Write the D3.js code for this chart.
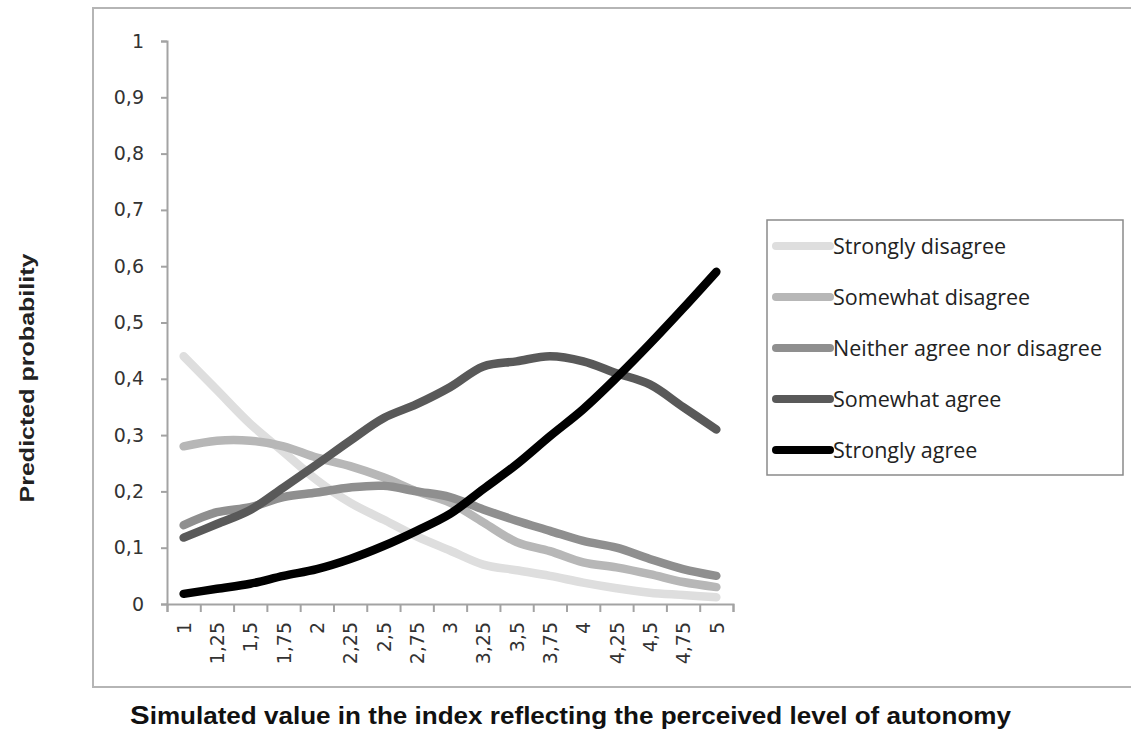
<!DOCTYPE html>
<html>
<head>
<meta charset="utf-8">
<script src="https://cdn.jsdelivr.net/npm/d3@7"></script>
<style>
  body { margin: 0; background: #fff; }
  svg { display: block; }
</style>
</head>
<body>
<div class="container"></div>
<script>
// categories (simulated index values) and their printed labels
var categories = [1, 1.25, 1.5, 1.75, 2, 2.25, 2.5, 2.75, 3, 3.25, 3.5, 3.75, 4, 4.25, 4.5, 4.75, 5];
var xLabels = ['1', '1,25', '1,5', '1,75', '2', '2,25', '2,5', '2,75', '3', '3,25', '3,5', '3,75', '4', '4,25', '4,5', '4,75', '5'];
var yTicks = [0, 0.1, 0.2, 0.3, 0.4, 0.5, 0.6, 0.7, 0.8, 0.9, 1];
var yLabels = ['0', '0,1', '0,2', '0,3', '0,4', '0,5', '0,6', '0,7', '0,8', '0,9', '1'];

var seriesNames = ['Strongly disagree', 'Somewhat disagree', 'Neither agree nor disagree', 'Somewhat agree', 'Strongly agree'];
var stronglyDisagree = [0.44, 0.38, 0.32, 0.27, 0.22, 0.18, 0.15, 0.12, 0.095, 0.07, 0.06, 0.05, 0.038, 0.028, 0.02, 0.016, 0.012];
var somewhatDisagree = [0.28, 0.29, 0.29, 0.28, 0.26, 0.245, 0.225, 0.2, 0.18, 0.145, 0.11, 0.094, 0.074, 0.065, 0.053, 0.039, 0.03];
var neitherAgree = [0.14, 0.163, 0.172, 0.19, 0.198, 0.207, 0.21, 0.2, 0.19, 0.168, 0.148, 0.13, 0.112, 0.1, 0.08, 0.062, 0.05];
var somewhatAgree = [0.118, 0.142, 0.167, 0.207, 0.248, 0.29, 0.33, 0.355, 0.385, 0.422, 0.431, 0.44, 0.431, 0.41, 0.39, 0.35, 0.31];
var stronglyAgree = [0.018, 0.027, 0.036, 0.05, 0.062, 0.08, 0.103, 0.13, 0.16, 0.204, 0.248, 0.298, 0.346, 0.402, 0.462, 0.525, 0.59];

var colors = ['#dedede', '#b7b7b7', '#8f8f8f', '#595959', '#000000'];

var series = [stronglyDisagree, somewhatDisagree, neitherAgree, somewhatAgree, stronglyAgree];

var width = 1131, height = 747;
var svg = d3.select('.container')
  .append('svg')
  .attr('width', width)
  .attr('height', height);

// outer chart frame
svg.append('rect')
  .attr('x', 93)
  .attr('y', 8)
  .attr('width', width)
  .attr('height', 679)
  .attr('fill', 'none')
  .attr('stroke', '#b5b5b5')
  .attr('stroke-width', 2);

var plot = { left: 167, right: 733, top: 41, bottom: 604 };

// x: each category sits in the middle of its slot, ticks mark slot edges
var step = categories[1] - categories[0];
var x = d3.scaleLinear()
  .domain([categories[0] - step / 2, categories[categories.length - 1] + step / 2])
  .range([plot.left, plot.right]);
var y = d3.scaleLinear()
  .domain([0, 1])
  .range([plot.bottom, plot.top]);

var edges = d3.range(categories.length + 1).map(function(i) {
  return categories[0] - step / 2 + i * step;
});

var axisColor = '#a3a3a3';
var tickFont = 'DejaVu Sans, Verdana, sans-serif';

// y axis
var yAxis = svg.append('g')
  .attr('transform', 'translate(' + plot.left + ',0)')
  .call(d3.axisLeft(y)
    .tickValues(yTicks)
    .tickSize(6)
    .tickPadding(17)
    .tickFormat(function(d, i) { return yLabels[i]; }));
yAxis.select('.domain').attr('stroke', axisColor).attr('stroke-width', 2);
yAxis.selectAll('.tick line').attr('stroke', axisColor).attr('stroke-width', 2);
yAxis.selectAll('.tick text')
  .attr('fill', '#333')
  .style('font-family', tickFont)
  .style('font-size', '19px');

// x axis: tick marks at slot edges
var xAxis = svg.append('g')
  .attr('transform', 'translate(0,' + plot.bottom + ')')
  .call(d3.axisBottom(x)
    .tickValues(edges)
    .tickSize(8)
    .tickFormat(''));
xAxis.select('.domain').attr('stroke', axisColor).attr('stroke-width', 2);
xAxis.selectAll('.tick line').attr('stroke', axisColor).attr('stroke-width', 2);

// x labels, rotated, centred in each slot
var xLab = svg.append('g')
  .attr('transform', 'translate(0,' + plot.bottom + ')')
  .call(d3.axisBottom(x)
    .tickValues(categories)
    .tickSize(0)
    .tickFormat(function(d, i) { return xLabels[i]; }));
xLab.select('.domain').remove();
xLab.selectAll('.tick text')
  .attr('fill', '#333')
  .attr('transform', 'rotate(-90)')
  .attr('text-anchor', 'end')
  .attr('x', -18)
  .attr('y', 0)
  .attr('dy', '0.35em')
  .style('font-family', tickFont)
  .style('font-size', '19px');

// lines
var line = d3.line()
  .x(function(d, i) { return x(categories[i]); })
  .y(function(d) { return y(d); })
  .curve(d3.curveCatmullRom.alpha(0.5));

svg.append('g')
  .selectAll('path')
  .data(series)
  .enter()
  .append('path')
  .attr('d', line)
  .attr('fill', 'none')
  .attr('stroke', function(d, i) { return colors[i]; })
  .attr('stroke-width', 8.5)
  .attr('stroke-linecap', 'round')
  .attr('stroke-linejoin', 'round');

// legend
var legend = svg.append('g');
legend.append('rect')
  .attr('x', 767)
  .attr('y', 220)
  .attr('width', 356)
  .attr('height', 255)
  .attr('fill', '#fff')
  .attr('stroke', '#8a8a8a')
  .attr('stroke-width', 1.5);

var items = legend.selectAll('g.item')
  .data(seriesNames)
  .enter()
  .append('g')
  .attr('class', 'item')
  .attr('transform', function(d, i) { return 'translate(776,' + (246 + i * 51) + ')'; });
items.append('line')
  .attr('x1', 0)
  .attr('x2', 54)
  .attr('stroke', function(d, i) { return colors[i]; })
  .attr('stroke-width', 8)
  .attr('stroke-linecap', 'round');
items.append('text')
  .attr('x', 57)
  .attr('dy', '0.35em')
  .attr('fill', '#222')
  .style('font-family', 'Open Sans, sans-serif')
  .style('font-size', '21.5px')
  .text(function(d) { return d; });

// axis titles
svg.append('text')
  .attr('transform', 'translate(34,378) rotate(-90)')
  .attr('text-anchor', 'middle')
  .attr('fill', '#222')
  .style('font-family', 'Liberation Sans, Arial, sans-serif')
  .style('font-weight', 'bold')
  .style('font-size', '21px')
  .attr('textLength', 249)
  .attr('lengthAdjust', 'spacingAndGlyphs')
  .text('Predicted probability');

var title = svg.append('text')
  .attr('x', 130)
  .attr('y', 724)
  .attr('fill', '#111')
  .style('font-family', 'Liberation Sans Narrow, Arial Narrow, Liberation Sans, sans-serif')
  .style('font-weight', 'bold')
  .style('font-size', '23px')
  .attr('textLength', 881)
  .attr('lengthAdjust', 'spacingAndGlyphs');
title.append('tspan').style('font-size', '26px').text('S');
title.append('tspan').text('imulated value in the index reflecting the perceived level of autonomy');
</script>
</body>
</html>
